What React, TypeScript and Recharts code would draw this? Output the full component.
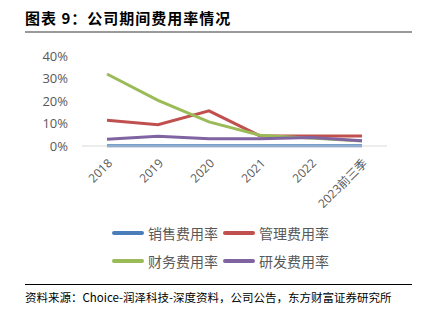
import React from 'react';
import { LineChart, Line, XAxis, YAxis } from 'recharts';

const years = ['2018', '2019', '2020', '2021', '2022', '2023前三季'];
const salesRate = [0.1, 0.1, 0.1, 0.1, 0.1, 0.1];
const adminRate = [11.4, 9.5, 15.6, 4.5, 4.5, 4.5];
const financeRate = [32, 20.3, 10.7, 4.8, 3.5, 2.2];
const rdRate = [3, 4.3, 3.2, 3.2, 3.8, 2.3];
const yTicks = [0, 10, 20, 30, 40];

const series = [
  { key: 'sales', name: '销售费用率', color: '#4A7EBB' },
  { key: 'admin', name: '管理费用率', color: '#C0504D' },
  { key: 'finance', name: '财务费用率', color: '#9BBB59' },
  { key: 'rd', name: '研发费用率', color: '#8064A2' },
];

const data = years.map((year, i) => ({
  year,
  sales: salesRate[i],
  admin: adminRate[i],
  finance: financeRate[i],
  rd: rdRate[i],
}));

const axisFont = "'Open Sans', 'Noto Sans CJK SC', sans-serif";
const cjkFont = "'Noto Sans CJK SC', sans-serif";

const XTick = (props: any) => {
  const { x, y, payload } = props;
  return (
    <text
      x={x + 6}
      y={y + 10}
      transform={`rotate(-45, ${x + 6}, ${y + 10})`}
      textAnchor="end"
      fontSize={12}
      fill="#595959"
      fontFamily={axisFont}
    >
      {payload.value}
    </text>
  );
};

const LegendItem = ({ name, color }: { name: string; color: string }) => (
  <div style={{ display: 'flex', alignItems: 'center', width: 111 }}>
    <div style={{ width: 32, height: 4, borderRadius: 2, background: color, marginRight: 4 }} />
    <span style={{ fontSize: 14, color: '#595959', fontFamily: cjkFont, lineHeight: '16px' }}>{name}</span>
  </div>
);

const App: React.FC = () => {
  return (
    <div style={{ position: 'absolute', left: 0, top: 0, width: 421, height: 321, background: '#fff', overflow: 'hidden' }}>
      <div
        style={{
          position: 'absolute',
          left: 25,
          top: 8,
          fontSize: 15,
          fontWeight: 'bold',
          fontFamily: cjkFont,
          color: '#000',
          lineHeight: '20px',
          letterSpacing: 1,
        }}
      >
        图表 9：公司期间费用率情况
      </div>
      <div style={{ position: 'absolute', left: 25, top: 31, width: 387, height: 2, background: '#9a9a9a' }} />

      <div style={{ position: 'absolute', left: 0, top: 0 }}>
        <LineChart width={421} height={216} data={data} margin={{ top: 56, right: 34, left: 0, bottom: 0 }}>
          <XAxis
            dataKey="year"
            tick={<XTick />}
            tickLine={false}
            axisLine={{ stroke: '#d9d9d9', strokeWidth: 1 }}
            height={70}
            interval={0}
            padding={{ left: 25, right: 25 }}
          />
          <YAxis
            domain={[0, 40]}
            ticks={yTicks}
            tickFormatter={(v: number) => `${v}%`}
            axisLine={false}
            tickLine={false}
            tickSize={0}
            tickMargin={14}
            width={82}
            tick={{ fontSize: 13, fill: '#595959', fontFamily: axisFont }}
          />
          {series.map((s) => (
            <Line
              key={s.key}
              dataKey={s.key}
              name={s.name}
              stroke={s.color}
              strokeWidth={3}
              dot={false}
              isAnimationActive={false}
            />
          ))}
        </LineChart>
      </div>

      <div style={{ position: 'absolute', left: 112, top: 225, display: 'flex', flexWrap: 'wrap', width: 230, rowGap: 12 }}>
        {series.map((s) => (
          <LegendItem key={s.key} name={s.name} color={s.color} />
        ))}
      </div>

      <div style={{ position: 'absolute', left: 25, top: 284, width: 387, height: 1, background: '#000' }} />
      <div
        style={{
          position: 'absolute',
          left: 25,
          top: 289,
          fontSize: 11.5,
          fontFamily: cjkFont,
          color: '#000',
          lineHeight: '16px',
          whiteSpace: 'nowrap',
        }}
      >
        资料来源：Choice-润泽科技-深度资料，公司公告，东方财富证券研究所
      </div>
    </div>
  );
};

export default App;
